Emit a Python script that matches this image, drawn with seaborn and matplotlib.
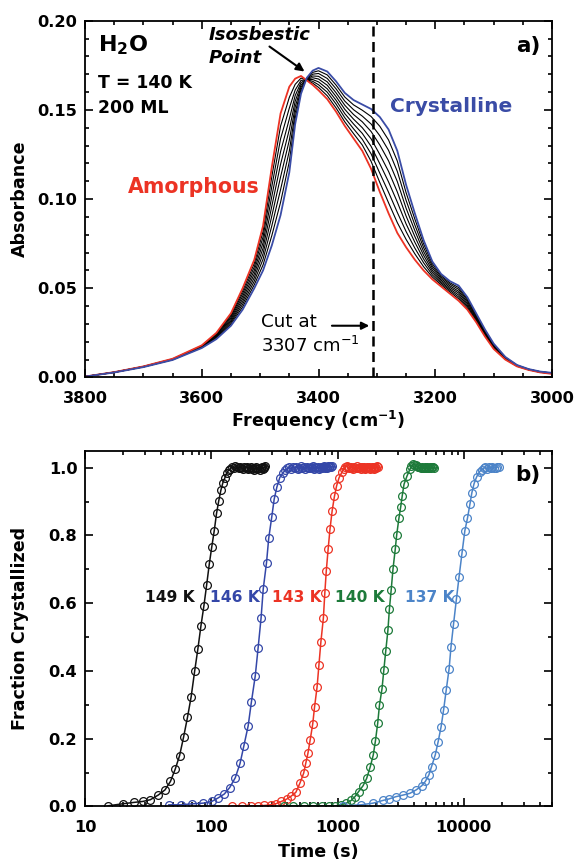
import matplotlib
matplotlib.use("Agg")
import matplotlib.pyplot as plt
import seaborn as sns
import pandas as pd
from matplotlib.ticker import MultipleLocator, FormatStrFormatter, FixedLocator, FixedFormatter, LogLocator, NullFormatter

# ---------------- Panel a) IR spectra ----------------
freq = [3800, 3750, 3700, 3650, 3600, 3575, 3550, 3530, 3510, 3495, 3480, 3465, 3450, 3440, 3430,
        3420, 3410, 3400, 3385, 3370, 3355, 3340, 3325, 3310, 3295, 3280, 3265, 3250, 3235, 3220,
        3205, 3190, 3175, 3160, 3145, 3130, 3115, 3100, 3080, 3060, 3040, 3020, 3000]

amorphous = [0.0005, 0.0030, 0.0062, 0.0105, 0.0180, 0.0250, 0.0360, 0.0500, 0.0660, 0.0850, 0.1180,
             0.1480, 0.1630, 0.1675, 0.1690, 0.1665, 0.1640, 0.1610, 0.1560, 0.1490, 0.1410, 0.1340,
             0.1270, 0.1170, 0.1040, 0.0920, 0.0810, 0.0730, 0.0660, 0.0600, 0.0550, 0.0510, 0.0470,
             0.0430, 0.0380, 0.0310, 0.0230, 0.0160, 0.0100, 0.0062, 0.0042, 0.0028, 0.0020]

crystalline = [0.0005, 0.0028, 0.0058, 0.0098, 0.0165, 0.0215, 0.0290, 0.0380, 0.0500, 0.0600, 0.0740,
               0.0910, 0.1150, 0.1420, 0.1590, 0.1680, 0.1720, 0.1735, 0.1715, 0.1660, 0.1595, 0.1555,
               0.1530, 0.1505, 0.1460, 0.1390, 0.1270, 0.1080, 0.0920, 0.0770, 0.0650, 0.0580, 0.0540,
               0.0515, 0.0450, 0.0360, 0.0270, 0.0190, 0.0115, 0.0070, 0.0047, 0.0033, 0.0026]

spec_1 = [0.0005, 0.0030, 0.0062, 0.0104, 0.0178, 0.0246, 0.0351, 0.0485, 0.0640, 0.0819, 0.1125, 0.1409,
          0.1570, 0.1643, 0.1678, 0.1667, 0.1650, 0.1626, 0.1579, 0.1511, 0.1433, 0.1367, 0.1303, 0.1212,
          0.1093, 0.0979, 0.0868, 0.0774, 0.0693, 0.0621, 0.0563, 0.0519, 0.0479, 0.0441, 0.0389, 0.0316,
          0.0235, 0.0164, 0.0102, 0.0063, 0.0043, 0.0029, 0.0021]
spec_2 = [0.0005, 0.0030, 0.0061, 0.0103, 0.0176, 0.0241, 0.0343, 0.0470, 0.0620, 0.0788, 0.1070, 0.1338,
          0.1510, 0.1611, 0.1665, 0.1669, 0.1660, 0.1641, 0.1599, 0.1533, 0.1456, 0.1394, 0.1335, 0.1254,
          0.1145, 0.1038, 0.0925, 0.0818, 0.0725, 0.0643, 0.0575, 0.0528, 0.0488, 0.0451, 0.0398, 0.0323,
          0.0240, 0.0168, 0.0104, 0.0064, 0.0043, 0.0029, 0.0022]
spec_3 = [0.0005, 0.0029, 0.0061, 0.0102, 0.0174, 0.0237, 0.0334, 0.0455, 0.0600, 0.0756, 0.1015, 0.1266,
          0.1449, 0.1580, 0.1653, 0.1671, 0.1670, 0.1657, 0.1618, 0.1554, 0.1479, 0.1421, 0.1368, 0.1296,
          0.1198, 0.1096, 0.0983, 0.0861, 0.0758, 0.0664, 0.0588, 0.0536, 0.0496, 0.0462, 0.0406, 0.0329,
          0.0245, 0.0171, 0.0106, 0.0065, 0.0044, 0.0030, 0.0022]
spec_4 = [0.0005, 0.0029, 0.0060, 0.0101, 0.0173, 0.0233, 0.0325, 0.0440, 0.0580, 0.0725, 0.0960, 0.1195,
          0.1390, 0.1548, 0.1640, 0.1673, 0.1680, 0.1673, 0.1638, 0.1575, 0.1503, 0.1448, 0.1400, 0.1338,
          0.1250, 0.1155, 0.1040, 0.0905, 0.0790, 0.0685, 0.0600, 0.0545, 0.0505, 0.0473, 0.0415, 0.0335,
          0.0250, 0.0175, 0.0108, 0.0066, 0.0045, 0.0031, 0.0023]
spec_5 = [0.0005, 0.0029, 0.0060, 0.0101, 0.0171, 0.0228, 0.0316, 0.0425, 0.0560, 0.0694, 0.0905, 0.1124,
          0.1330, 0.1516, 0.1628, 0.1674, 0.1690, 0.1688, 0.1657, 0.1596, 0.1526, 0.1474, 0.1433, 0.1379,
          0.1303, 0.1214, 0.1098, 0.0949, 0.0823, 0.0706, 0.0613, 0.0554, 0.0514, 0.0483, 0.0424, 0.0341,
          0.0255, 0.0179, 0.0109, 0.0067, 0.0045, 0.0031, 0.0024]
spec_6 = [0.0005, 0.0029, 0.0059, 0.0100, 0.0169, 0.0224, 0.0308, 0.0410, 0.0540, 0.0663, 0.0850, 0.1053,
          0.1270, 0.1484, 0.1615, 0.1676, 0.1700, 0.1704, 0.1676, 0.1618, 0.1549, 0.1501, 0.1465, 0.1421,
          0.1355, 0.1273, 0.1155, 0.0993, 0.0855, 0.0728, 0.0625, 0.0563, 0.0523, 0.0494, 0.0433, 0.0348,
          0.0260, 0.0183, 0.0111, 0.0068, 0.0046, 0.0032, 0.0025]
spec_7 = [0.0005, 0.0028, 0.0059, 0.0099, 0.0167, 0.0219, 0.0299, 0.0395, 0.0520, 0.0631, 0.0795, 0.0982,
          0.1210, 0.1452, 0.1603, 0.1678, 0.1710, 0.1719, 0.1696, 0.1639, 0.1572, 0.1528, 0.1498, 0.1463,
          0.1408, 0.1331, 0.1213, 0.1036, 0.0888, 0.0749, 0.0638, 0.0571, 0.0531, 0.0504, 0.0441, 0.0354,
          0.0265, 0.0186, 0.0113, 0.0069, 0.0046, 0.0032, 0.0025]

cut_freq = 3307
freq_ticks = [3800, 3600, 3400, 3200, 3000]
abs_ticks = [0.00, 0.05, 0.10, 0.15, 0.20]

# ---------------- Panel b) crystallization kinetics ----------------
temps = ["149 K", "146 K", "143 K", "140 K", "137 K"]

t_149 = [15.2, 19.9, 24.3, 28.8, 32.9, 38.1, 43.0, 47.5, 51.8, 56.1, 60.3, 64.8, 69.3, 73.9, 78.4, 82.9,
         87.5, 92.0, 96.5, 101.0, 105.6, 110.1, 114.6, 119.1, 123.7, 128.2, 132.7, 137.2,
         141.8, 146.3, 150.8, 155.3, 159.9, 164.4, 168.9, 173.4, 178.0, 182.5, 187.0, 191.5, 196.1,
         200.6, 205.1, 209.6, 214.2, 218.7, 223.2, 227.7, 232.3, 236.8, 241.3, 245.8, 250.4, 254.9,
         259.4, 263.9, 268.5]
f_149 = [0.002, 0.008, 0.012, 0.015, 0.020, 0.034, 0.049, 0.074, 0.110, 0.150, 0.204, 0.263, 0.324,
         0.400, 0.466, 0.534, 0.593, 0.655, 0.716, 0.767, 0.814, 0.865, 0.902, 0.933, 0.956, 0.970,
         0.985, 0.992,
         0.997, 1.002, 0.999, 1.004, 1.001, 0.998, 1.003, 1.000, 0.996, 1.002, 0.999, 1.001, 0.995,
         0.998, 1.002, 0.997, 1.000, 0.994, 0.999, 1.003, 0.996, 1.000, 0.993, 0.998, 1.002, 0.997,
         1.001, 0.999, 1.004]

t_146 = [45.9, 58.1, 71.0, 86.7, 101.0, 113.0, 127.0, 140.0, 155.0, 169.0, 181.0, 196.0, 208.0, 223.0,
         235.0, 248.0, 258.0, 274.0, 285.0, 301.0, 315.0, 331.0, 349.0, 370.0,
         387, 401, 415, 429, 443, 457, 471, 485, 499, 513, 527, 541, 555, 569, 583, 597, 611, 625, 639,
         653, 667, 681, 695, 709, 723, 737, 751, 765, 779, 793, 807, 821, 835, 849, 863, 877, 891, 905]
f_146 = [0.005, 0.005, 0.008, 0.010, 0.015, 0.025, 0.037, 0.056, 0.085, 0.127, 0.178, 0.238, 0.309,
         0.385, 0.468, 0.556, 0.642, 0.720, 0.791, 0.853, 0.907, 0.943, 0.971, 0.985,
         0.993, 0.998, 1.001, 0.997, 1.003, 0.999, 1.002, 0.996, 1.000, 1.004, 0.998, 1.001, 0.997,
         1.003, 1.000, 0.998, 1.002, 0.999, 1.004, 0.997, 1.001, 0.999, 1.003, 0.996, 1.000, 1.002,
         0.998, 1.001, 1.004, 0.999, 1.002, 1.000, 1.005, 1.001, 1.003, 1.006, 1.002, 1.004]

t_143 = [145, 175, 207, 236, 261, 295, 324, 360, 396, 431, 468, 504, 539, 560, 583, 607, 636, 658, 689,
         713, 738, 773, 793, 815, 843, 872, 907, 945, 983, 1030, 1087,
         1120, 1150, 1180, 1210, 1240, 1270, 1300, 1330, 1360, 1390, 1420, 1450, 1480, 1510, 1540, 1570,
         1600, 1630, 1660, 1690, 1720, 1750, 1780, 1810, 1840, 1870, 1900, 1930, 1960, 1990, 2020, 2050,
         2080]
f_143 = [0.002, 0.002, 0.002, 0.002, 0.003, 0.005, 0.008, 0.015, 0.022, 0.031, 0.042, 0.069, 0.098,
         0.127, 0.157, 0.196, 0.243, 0.294, 0.353, 0.419, 0.485, 0.557, 0.629, 0.696, 0.760, 0.819,
         0.873, 0.915, 0.946, 0.971, 0.988,
         0.996, 1.002, 1.005, 1.001, 0.998, 1.003, 1.000, 0.997, 1.002, 0.999, 1.004, 1.000, 0.998,
         1.002, 0.996, 1.001, 0.999, 1.003, 0.997, 1.000, 1.002, 0.998, 1.001, 0.996, 1.000, 1.003,
         0.998, 1.001, 0.997, 1.002, 1.000, 1.004, 1.002]

t_140 = [377, 446, 546, 645, 751, 859, 963, 1065, 1177, 1285, 1374, 1469, 1592, 1702, 1819, 1919, 1997,
         2080, 2149, 2252, 2329, 2410, 2507, 2575, 2662, 2751, 2867, 2943, 3065, 3168, 3255, 3363, 3548,
         3743,
         3850, 3950, 4050, 4150, 4250, 4350, 4450, 4550, 4650, 4750, 4850, 4950, 5050, 5150, 5250, 5350,
         5450, 5550, 5650, 5750, 5850]
f_140 = [0.002, 0.002, 0.002, 0.002, 0.002, 0.002, 0.002, 0.005, 0.010, 0.018, 0.029, 0.044, 0.061,
         0.083, 0.118, 0.152, 0.194, 0.245, 0.299, 0.348, 0.404, 0.459, 0.520, 0.582, 0.640, 0.701,
         0.760, 0.802, 0.851, 0.885, 0.917, 0.951, 0.975, 0.995,
         1.006, 1.010, 1.009, 1.007, 1.004, 1.003, 1.001, 0.999, 1.002, 0.998, 1.000, 1.002, 0.999,
         1.001, 0.998, 1.000, 1.002, 0.999, 1.001, 1.002, 0.999]

t_137 = [1101, 1538, 1919, 2297, 2541, 2900, 3328, 3751, 4196, 4640, 4960, 5290, 5560, 5943, 6266, 6610,
         6928, 7257, 7656, 7920, 8300, 8750, 9165, 9675, 10200, 10700, 11210, 11590, 12070, 12650, 13340,
         13850, 14350, 14850, 15350, 15850, 16350, 16850, 17350, 17850, 18350, 18850]
f_137 = [0.002, 0.005, 0.010, 0.018, 0.022, 0.029, 0.034, 0.039, 0.049, 0.061, 0.074, 0.093, 0.118,
         0.152, 0.191, 0.235, 0.286, 0.343, 0.407, 0.471, 0.539, 0.613, 0.676, 0.747, 0.814, 0.851,
         0.894, 0.926, 0.953, 0.973, 0.988,
         0.994, 0.998, 1.001, 0.997, 1.002, 0.999, 1.003, 1.000, 0.998, 1.002, 1.001]

label_t = [46.8, 155, 477, 1503, 5420]
label_f = 0.618
time_ticks = [10, 100, 1000, 10000]
time_ticklabels = ["10", "100", "1000", "10000"]
frac_ticks = [0.0, 0.2, 0.4, 0.6, 0.8, 1.0]

# ---------------- styling ----------------
RED = "#EC3324"
BLUE = "#3A4CA6"
GREEN = "#1D7A3A"
LBLUE = "#4C84C8"
kin_colors = ["#111111", "#3447A8", RED, GREEN, LBLUE]

sns.set_theme(style="ticks")
plt.rcParams["font.family"] = ["DejaVu Sans"]
plt.rcParams["font.weight"] = "bold"
plt.rcParams["axes.labelweight"] = "bold"
plt.rcParams["mathtext.default"] = "regular"
plt.rcParams["axes.edgecolor"] = "black"
plt.rcParams["axes.linewidth"] = 1.3
plt.rcParams["xtick.color"] = "black"
plt.rcParams["ytick.color"] = "black"
plt.rcParams["text.color"] = "black"
plt.rcParams["axes.labelcolor"] = "black"

fig = plt.figure(figsize=(5.74, 8.61), dpi=100)
ax1 = fig.add_axes([0.1481, 0.5616, 0.8136, 0.4144])
ax2 = fig.add_axes([0.1481, 0.0633, 0.8136, 0.4132])

TICK_FS = 11.7
LAB_FS = 12.6


def style_ticks(ax):
    ax.tick_params(which="both", direction="in", top=True, right=True, width=1.2, colors="black")
    ax.tick_params(which="major", length=5.5)
    ax.tick_params(which="minor", length=3)
    ax.tick_params(axis="x", which="major", pad=10, labelsize=TICK_FS)
    ax.tick_params(axis="y", which="major", pad=5.5, labelsize=TICK_FS)
    for lab in ax.get_xticklabels() + ax.get_yticklabels():
        lab.set_fontweight("bold")
    for s in ax.spines.values():
        s.set_visible(True)
        s.set_color("black")
        s.set_linewidth(1.3)


# ---- panel a
for curve in [spec_1, spec_2, spec_3, spec_4, spec_5, spec_6, spec_7]:
    sns.lineplot(x=freq, y=curve, color="black", lw=0.8, ax=ax1, estimator=None, sort=False)
sns.lineplot(x=freq, y=amorphous, color=RED, lw=1.3, ax=ax1, estimator=None, sort=False)
sns.lineplot(x=freq, y=crystalline, color=BLUE, lw=1.3, ax=ax1, estimator=None, sort=False)
ax1.axvline(cut_freq, color="black", lw=1.8, ls=(0, (4, 2.2)))

ax1.set_xlim(3800, 3000)
ax1.set_ylim(0, 0.20)
ax1.xaxis.set_major_locator(FixedLocator(freq_ticks))
ax1.xaxis.set_major_formatter(FormatStrFormatter("%d"))
ax1.xaxis.set_minor_locator(MultipleLocator(50))
ax1.yaxis.set_major_locator(FixedLocator(abs_ticks))
ax1.yaxis.set_major_formatter(FormatStrFormatter("%.2f"))
ax1.yaxis.set_minor_locator(MultipleLocator(0.01))
style_ticks(ax1)
ax1.set_xlabel(r"Frequency (cm$^{-1}$)", fontsize=LAB_FS, fontweight="bold")
ax1.set_ylabel("Absorbance", fontsize=LAB_FS, fontweight="bold")
ax1.xaxis.set_label_coords(0.5, -0.088)
ax1.yaxis.set_label_coords(-0.121, 0.5)

ax1.text(0.027, 0.932, r"H$_2$O", transform=ax1.transAxes, fontsize=16, fontweight="bold",
         ha="left", va="center")
ax1.text(0.027, 0.825, "T = 140 K", transform=ax1.transAxes, fontsize=12.4, fontweight="bold",
         ha="left", va="center")
ax1.text(0.027, 0.755, "200 ML", transform=ax1.transAxes, fontsize=12.4, fontweight="bold",
         ha="left", va="center")
ax1.text(0.976, 0.93, "a)", transform=ax1.transAxes, fontsize=15.5, fontweight="bold",
         ha="right", va="center")
ax1.text(3589, 0.192, "Isosbestic", fontsize=13, fontweight="bold", fontstyle="italic",
         ha="left", va="center")
ax1.text(3589, 0.179, "Point", fontsize=13, fontweight="bold", fontstyle="italic",
         ha="left", va="center")
ax1.annotate("", xy=(3424, 0.1715), xytext=(3484, 0.1855),
             arrowprops=dict(arrowstyle="-|>", color="black", lw=1.5, mutation_scale=12,
                             shrinkA=0, shrinkB=0))
ax1.text(3726, 0.1067, "Amorphous", fontsize=14.8, fontweight="bold", color=RED,
         ha="left", va="center")
ax1.text(3277, 0.152, "Crystalline", fontsize=14.5, fontweight="bold", color=BLUE,
         ha="left", va="center")
ax1.text(3498, 0.0309, "Cut at", fontsize=13.2, fontweight="normal", ha="left", va="center")
ax1.text(3498, 0.0178, r"3307 cm$^{-1}$", fontsize=13, fontweight="normal", ha="left", va="center")
ax1.annotate("", xy=(3313, 0.029), xytext=(3377, 0.029),
             arrowprops=dict(arrowstyle="-|>", color="black", lw=1.5, mutation_scale=11,
                             shrinkA=0, shrinkB=0))

# ---- panel b
series = [(t_149, f_149), (t_146, f_146), (t_143, f_143), (t_140, f_140), (t_137, f_137)]
for (tt, ff), c in zip(series, kin_colors):
    df = pd.DataFrame({"t": tt, "f": ff})
    sns.lineplot(data=df, x="t", y="f", color=c, lw=1.1, marker="o", markersize=5.6,
                 markerfacecolor="none", markeredgecolor=c, markeredgewidth=0.9,
                 ax=ax2, estimator=None, sort=False)

ax2.set_xscale("log")
ax2.set_xlim(10, 50000)
ax2.set_ylim(0, 1.05)
ax2.xaxis.set_major_locator(FixedLocator(time_ticks))
ax2.xaxis.set_major_formatter(FixedFormatter(time_ticklabels))
ax2.xaxis.set_minor_locator(LogLocator(base=10, subs=[2, 3, 4, 5, 6, 7, 8, 9], numticks=20))
ax2.xaxis.set_minor_formatter(NullFormatter())
ax2.yaxis.set_major_locator(FixedLocator(frac_ticks))
ax2.yaxis.set_major_formatter(FormatStrFormatter("%.1f"))
ax2.yaxis.set_minor_locator(MultipleLocator(0.1))
style_ticks(ax2)
ax2.set_xlabel("Time (s)", fontsize=LAB_FS, fontweight="bold")
ax2.set_ylabel("Fraction Crystallized", fontsize=LAB_FS, fontweight="bold")
ax2.xaxis.set_label_coords(0.5, -0.104)
ax2.yaxis.set_label_coords(-0.121, 0.5)

for lab, tx, c in zip(temps, label_t, kin_colors):
    ax2.text(tx, label_f, lab, color=c, fontsize=11.2, fontweight="bold", ha="center", va="center")
ax2.text(0.976, 0.932, "b)", transform=ax2.transAxes, fontsize=15.5, fontweight="bold",
         ha="right", va="center")

fig.savefig("out.png", dpi=100)
